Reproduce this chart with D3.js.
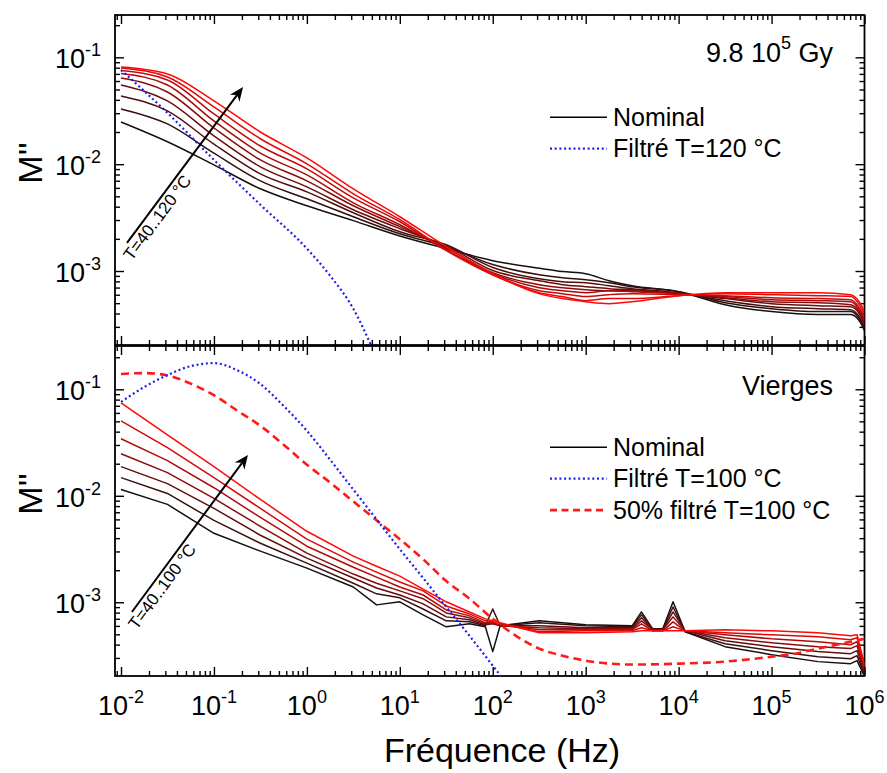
<!DOCTYPE html>
<html><head><meta charset="utf-8">
<script src="https://cdn.jsdelivr.net/npm/d3@7"></script>
<style>
body{margin:0;background:#fff}
svg{display:block}
text{font-family:"Liberation Sans",Arial,Helvetica,sans-serif;fill:#000}
</style>
</head><body>
<svg id="chart" width="887" height="773"></svg>
<script>
// ---------------- DATA ----------------
// Top panel: 9.8 10^5 Gy, nominal curves T = 40..120 °C
const topFreq = [0.01, 0.0316, 0.1, 0.316, 1, 3.16, 10, 31.6, 100, 316, 562, 1000, 1778, 3162, 10000, 31623, 100000, 316228, 707946, 891251, 1000000];
const topTemps = [40, 50, 60, 70, 80, 90, 100, 110, 120];
const topT40  = [0.0248, 0.0162, 0.00985, 0.00588, 0.00408, 0.00296, 0.00213, 0.00162, 0.00125, 0.00106, 0.000987, 0.000944, 0.000812, 0.000729, 0.000641, 0.000484, 0.000417, 0.000391, 0.000391, 0.000336, 0.000277];
const topT50  = [0.0329, 0.0238, 0.0127, 0.00698, 0.00474, 0.00322, 0.00223, 0.00169, 0.00115, 0.000923, 0.000865, 0.000829, 0.000777, 0.000714, 0.000641, 0.000505, 0.000444, 0.000417, 0.000417, 0.000351, 0.000289];
const topT60  = [0.0435, 0.0315, 0.0154, 0.00811, 0.00551, 0.00351, 0.00233, 0.00176, 0.00108, 0.000847, 0.000794, 0.000777, 0.000729, 0.000684, 0.000627, 0.000528, 0.000464, 0.000444, 0.000435, 0.000366, 0.000302];
const topT70  = [0.0551, 0.0391, 0.0184, 0.00944, 0.00613, 0.00374, 0.00249, 0.00172, 0.00101, 0.000812, 0.000745, 0.000714, 0.000684, 0.000669, 0.000614, 0.000552, 0.000495, 0.000474, 0.000464, 0.000391, 0.000315];
const topT80  = [0.0640, 0.0474, 0.0218, 0.01097, 0.00698, 0.00408, 0.00260, 0.00165, 0.000965, 0.000745, 0.000698, 0.000669, 0.000655, 0.000655, 0.000614, 0.000563, 0.000516, 0.000505, 0.000484, 0.000408, 0.000329];
const topT90  = [0.0705, 0.0551, 0.0254, 0.0127, 0.00794, 0.00435, 0.00271, 0.00158, 0.000946, 0.000698, 0.000655, 0.000627, 0.000655, 0.000641, 0.000614, 0.000576, 0.000539, 0.000528, 0.000516, 0.000426, 0.000351];
const topT100 = [0.0753, 0.0614, 0.0295, 0.0148, 0.00904, 0.00484, 0.00289, 0.00155, 0.000923, 0.000655, 0.000614, 0.000576, 0.000601, 0.000614, 0.000601, 0.000588, 0.000563, 0.000552, 0.000539, 0.000444, 0.000366];
const topT110 = [0.0794, 0.0654, 0.0343, 0.0173, 0.01007, 0.00528, 0.00302, 0.00158, 0.000923, 0.000627, 0.000576, 0.000528, 0.000552, 0.000552, 0.000588, 0.000614, 0.000601, 0.000588, 0.000576, 0.000474, 0.000391];
const topT120 = [0.0811, 0.0698, 0.0391, 0.0200, 0.01143, 0.00588, 0.00322, 0.00169, 0.000946, 0.000614, 0.000552, 0.000516, 0.000495, 0.000516, 0.000588, 0.000627, 0.000627, 0.000627, 0.000601, 0.000505, 0.000417];
const topFilteredFreq = [0.01, 0.0316, 0.1, 0.316, 1, 1.78, 3.16, 5.62, 10];
const topFiltered = [0.0761, 0.0302, 0.01097, 0.00417, 0.00162, 0.000903, 0.000444, 0.000155, 0.0000506];

// Bottom panel: Vierges, nominal curves T = 40..100 °C
const bottomFreq = [0.01, 0.0316, 0.1, 0.316, 1, 3.16, 5.62, 10, 17.8, 31.6, 56.2, 83.2, 100, 120, 316, 1000, 3162, 3981, 5248, 6761, 8710, 11749, 31623, 100000, 316228, 707946, 831764, 1000000];
const bottomTemps = [40, 50, 60, 70, 80, 90, 100];
const botT40  = [0.01144, 0.00830, 0.00444, 0.00302, 0.00209, 0.00139, 0.000945, 0.00101, 0.000761, 0.000588, 0.000627, 0.000588, 0.000344, 0.000601, 0.000669, 0.000614, 0.000601, 0.000811, 0.000563, 0.000563, 0.00101, 0.000528, 0.000383, 0.000322, 0.000277, 0.000265, 0.000283, 0.000201];
const botT50  = [0.0148, 0.01051, 0.00587, 0.00358, 0.00233, 0.00151, 0.00120, 0.00110, 0.000865, 0.000669, 0.000655, 0.000601, 0.000865, 0.000601, 0.000641, 0.000601, 0.000588, 0.000761, 0.000563, 0.000563, 0.000903, 0.000528, 0.000408, 0.000351, 0.000308, 0.000295, 0.000315, 0.000209];
const botT60  = [0.0188, 0.0130, 0.00761, 0.00426, 0.00260, 0.00169, 0.00136, 0.00117, 0.000966, 0.000729, 0.000684, 0.000614, 0.000627, 0.000601, 0.000601, 0.000576, 0.000576, 0.000714, 0.000551, 0.000551, 0.000811, 0.000539, 0.000435, 0.000383, 0.000344, 0.000329, 0.000351, 0.000218];
const botT70  = [0.0248, 0.0165, 0.00944, 0.00516, 0.00289, 0.00184, 0.00151, 0.00128, 0.00108, 0.000794, 0.000714, 0.000627, 0.000641, 0.000601, 0.000576, 0.000563, 0.000563, 0.000669, 0.000551, 0.000551, 0.000729, 0.000539, 0.000464, 0.000417, 0.000383, 0.000367, 0.000391, 0.000228];
const botT80  = [0.0343, 0.0214, 0.0119, 0.00626, 0.00336, 0.00213, 0.00172, 0.00139, 0.00117, 0.000847, 0.000745, 0.000641, 0.000641, 0.000614, 0.000551, 0.000551, 0.000551, 0.000627, 0.000539, 0.000539, 0.000655, 0.000539, 0.000495, 0.000454, 0.000426, 0.000399, 0.000426, 0.000238];
const botT90  = [0.0506, 0.0283, 0.0148, 0.00761, 0.00391, 0.00238, 0.00192, 0.00155, 0.00128, 0.000923, 0.000777, 0.000669, 0.000655, 0.000627, 0.000528, 0.000539, 0.000539, 0.000576, 0.000539, 0.000539, 0.000588, 0.000539, 0.000516, 0.000495, 0.000474, 0.000444, 0.000464, 0.000249];
const botT100 = [0.0745, 0.0374, 0.0188, 0.00923, 0.00464, 0.00271, 0.00218, 0.00176, 0.00133, 0.00101, 0.000811, 0.000698, 0.000669, 0.000641, 0.000516, 0.000516, 0.000528, 0.000539, 0.000539, 0.000539, 0.000539, 0.000539, 0.000551, 0.000539, 0.000516, 0.000484, 0.000495, 0.000260];
const bottomFilteredFreq = [0.01, 0.0178, 0.0316, 0.0562, 0.1, 0.178, 0.316, 0.562, 1, 1.78, 3.16, 5.62, 10, 17.8, 31.6, 56.2, 100, 178];
const bottomFiltered = [0.0761, 0.1051, 0.136, 0.165, 0.176, 0.151, 0.112, 0.0698, 0.0408, 0.0218, 0.01144, 0.00600, 0.00315, 0.00169, 0.000903, 0.000484, 0.000254, 0.000133];
const bottomHalfFreq = [0.01, 0.0178, 0.0316, 0.0562, 0.1, 0.178, 0.316, 0.562, 1, 1.78, 3.16, 5.62, 10, 17.8, 31.6, 56.2, 100, 178, 316, 562, 1000, 3162, 10000, 31623, 100000, 177828, 316228, 562341, 1000000];
const bottomHalf = [0.139, 0.142, 0.135, 0.113, 0.088, 0.063, 0.0454, 0.0302, 0.0196, 0.0133, 0.00885, 0.00588, 0.00391, 0.00254, 0.00158, 0.00108, 0.000698, 0.000484, 0.000367, 0.000315, 0.000283, 0.000260, 0.000265, 0.000277, 0.000308, 0.000329, 0.000367, 0.000408, 0.000454];

// Tick labels (exponents of 10)
const xTickExps = [-2, -1, 0, 1, 2, 3, 4, 5, 6];
const yTickExps = [-3, -2, -1];
const legendTop = ["Nominal", "Filtré T=120 °C"];
const legendBottom = ["Nominal", "Filtré T=100 °C", "50% filtré T=100 °C"];

// ---------------- DRAWING ----------------
const topSeries = [topT40, topT50, topT60, topT70, topT80, topT90, topT100, topT110, topT120];
const botSeries = [botT40, botT50, botT60, botT70, botT80, botT90, botT100];

const svg = d3.select("#chart");
const X0 = 115, X1 = 864.5;
const x = d3.scaleLog().domain([Math.pow(10, -2.0646), 1e6]).range([X0, X1]);

const panels = [
  {y0: 15, y1: 345, dom: [2.03e-4, 0.249]},
  {y0: 346, y1: 676, dom: [2.03e-4, 0.255]}
];
panels.forEach(p => p.y = d3.scaleLog().domain(p.dom).range([p.y1, p.y0]));

const BLUE = "#1f1fef", RED = "#ff1a1a";
const dotted = "2,2.7", dashed = "8,5";

function minors(lo, hi, n0, n1) {
  const out = [];
  for (let n = n0; n <= n1; n++) for (let k = 2; k <= 9; k++) {
    const v = k * Math.pow(10, n);
    if (v > lo * 1.001 && v < hi * 0.999) out.push(v);
  }
  return out;
}
const xMajor = xTickExps.map(e => Math.pow(10, e));
const xMinor = minors(x.domain()[0], 1e6, -3, 5);

const defs = svg.append("defs");

panels.forEach((p, i) => {
  defs.append("clipPath").attr("id", "clip" + i)
    .append("rect").attr("x", X0).attr("y", p.y0).attr("width", X1 - X0).attr("height", p.y1 - p.y0);

  const yMajor = yTickExps.map(e => Math.pow(10, e));
  const yMinor = minors(p.dom[0], p.dom[1], -4, -1);

  const axes = [
    [d3.axisBottom(x), xMajor, xMinor, `translate(0,${p.y1})`],
    [d3.axisTop(x), xMajor, xMinor, `translate(0,${p.y0})`],
    [d3.axisLeft(p.y), yMajor, yMinor, `translate(${X0},0)`],
    [d3.axisRight(p.y), yMajor, yMinor, `translate(${X1},0)`]
  ];
  axes.forEach(([ax, maj, mino, tr]) => {
    [[maj, 9], [mino, 5]].forEach(([vals, size]) => {
      svg.append("g").attr("transform", tr)
        .call(ax.tickValues(vals).tickSize(-size).tickSizeOuter(0).tickFormat(""))
        .call(g => g.select(".domain").remove())
        .call(g => g.selectAll("line").attr("stroke", "#000").attr("stroke-width", 1.4));
    });
  });

  svg.append("rect").attr("x", X0).attr("y", p.y0).attr("width", X1 - X0).attr("height", p.y1 - p.y0)
    .attr("fill", "none").attr("stroke", "#000").attr("stroke-width", 1.8);

  yTickExps.forEach(e => {
    const t = svg.append("text").attr("x", 101).attr("y", p.y(Math.pow(10, e)) + 11)
      .attr("text-anchor", "end").attr("font-size", 27).text("10");
    t.append("tspan").attr("dy", -12).attr("font-size", 18).text(String(e));
  });

  svg.append("text").attr("transform", `translate(42,${(p.y0 + p.y1) / 2 - 17}) rotate(-90)`)
    .attr("text-anchor", "middle").attr("font-size", 34).text("M''");
});

xTickExps.forEach(e => {
  const t = svg.append("text").attr("x", x(Math.pow(10, e))).attr("y", 715)
    .attr("text-anchor", "middle").attr("font-size", 27).text("10");
  t.append("tspan").attr("dy", -12).attr("font-size", 18).text(String(e));
});
svg.append("text").attr("x", 502).attr("y", 762).attr("text-anchor", "middle")
  .attr("font-size", 34).text("Fréquence (Hz)");

function drawCurves(panelIdx, freq, seriesList, n, curve) {
  const p = panels[panelIdx];
  const colors = d3.quantize(d3.interpolateRgb("#141010", "#ff0808"), n);
  const line = d3.line().x(d => x(d[0])).y(d => p.y(d[1])).curve(curve);
  const g = svg.append("g").attr("clip-path", `url(#clip${panelIdx})`);
  seriesList.forEach((vals, k) => {
    g.append("path").datum(freq.map((f, j) => [f, vals[j]]))
      .attr("d", line).attr("fill", "none").attr("stroke", colors[k])
      .attr("stroke-width", 1.5).attr("stroke-linejoin", "round");
  });
}
function drawSmooth(panelIdx, freq, vals, color, dash, width) {
  const p = panels[panelIdx];
  const line = d3.line().x(d => x(d[0])).y(d => p.y(d[1])).curve(d3.curveMonotoneX);
  svg.append("g").attr("clip-path", `url(#clip${panelIdx})`)
    .append("path").datum(freq.map((f, j) => [f, vals[j]]))
    .attr("d", line).attr("fill", "none").attr("stroke", color)
    .attr("stroke-width", width).attr("stroke-dasharray", dash);
}

drawCurves(0, topFreq, topSeries, topTemps.length, d3.curveMonotoneX);
drawSmooth(0, topFilteredFreq, topFiltered, BLUE, dotted, 2.2);

drawCurves(1, bottomFreq, botSeries, bottomTemps.length, d3.curveLinear);
drawSmooth(1, bottomHalfFreq, bottomHalf, RED, dashed, 2.6);
drawSmooth(1, bottomFilteredFreq, bottomFiltered, BLUE, dotted, 2.2);

function arrow(p, from, to, label) {
  const x1 = x(from[0]), y1 = p.y(from[1]), x2 = x(to[0]), y2 = p.y(to[1]);
  const L = Math.hypot(x2 - x1, y2 - y1), ux = (x2 - x1) / L, uy = (y2 - y1) / L;
  const nx = -uy, ny = ux;
  const hl = 14, hw = 6;
  svg.append("line").attr("x1", x1).attr("y1", y1).attr("x2", x2 - ux * hl * 0.7).attr("y2", y2 - uy * hl * 0.7)
    .attr("stroke", "#000").attr("stroke-width", 2);
  const pts = [[x2, y2], [x2 - ux * hl + nx * hw, y2 - uy * hl + ny * hw],
    [x2 - ux * hl * 0.7, y2 - uy * hl * 0.7], [x2 - ux * hl - nx * hw, y2 - uy * hl - ny * hw]];
  svg.append("path").attr("d", "M" + pts.map(q => q.join(",")).join("L") + "Z").attr("fill", "#000");
  const ang = Math.atan2(uy, ux) * 180 / Math.PI;
  const tx = x1 - ux * 12 + nx * 15, ty = y1 - uy * 12 + ny * 15;
  svg.append("text").attr("transform", `translate(${tx},${ty}) rotate(${ang})`)
    .attr("font-size", 17).text(label);
}
arrow(panels[0], [0.0116, 1.83e-3], [0.2056, 0.0527], "T=40..120 °C");
arrow(panels[1], [0.0131, 8.1e-4], [0.232, 0.0242], "T=40..100 °C");

const pl = svg.append("text").attr("x", 833).attr("y", 62).attr("text-anchor", "end").attr("font-size", 27).text("9.8 10");
pl.append("tspan").attr("dy", -13).attr("font-size", 18).text("5");
pl.append("tspan").attr("dy", 13).text(" Gy");
svg.append("text").attr("x", 833).attr("y", 395).attr("text-anchor", "end").attr("font-size", 27).text("Vierges");

function legend(rows, y0) {
  rows.forEach((r, k) => {
    const yy = y0 + k * 31.4;
    svg.append("line").attr("x1", 550).attr("x2", 607).attr("y1", yy).attr("y2", yy)
      .attr("stroke", r.color).attr("stroke-width", r.w).attr("stroke-dasharray", r.dash);
    svg.append("text").attr("x", 613).attr("y", yy + 8.7).attr("font-size", 25).text(r.text);
  });
}
legend([{text: legendTop[0], color: "#000", w: 1.5, dash: null},
        {text: legendTop[1], color: BLUE, w: 2.2, dash: dotted}], 117.3);
legend([{text: legendBottom[0], color: "#000", w: 1.5, dash: null},
        {text: legendBottom[1], color: BLUE, w: 2.2, dash: dotted},
        {text: legendBottom[2], color: RED, w: 2.6, dash: "7,4.5"}], 447.3);
</script>
</body></html>
